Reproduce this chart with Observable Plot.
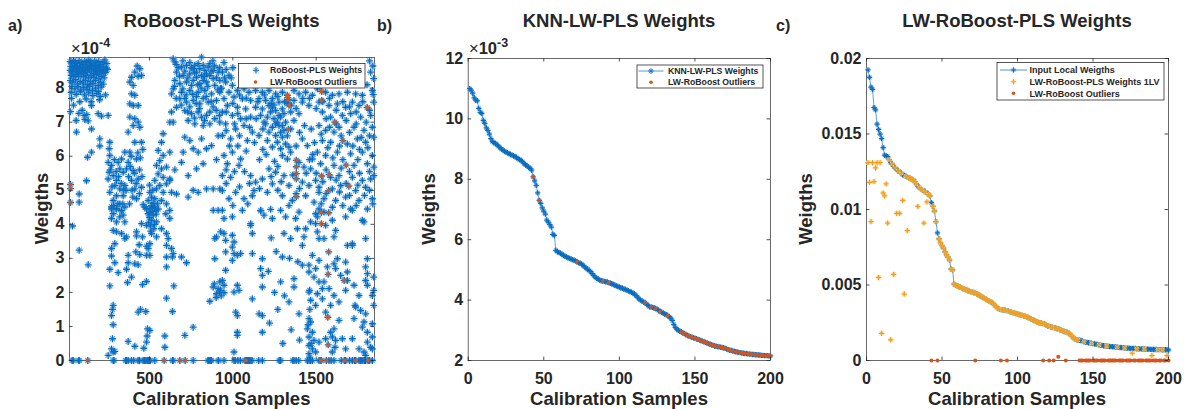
<!DOCTYPE html>
<html><head><meta charset="utf-8">
<script src="https://cdn.jsdelivr.net/npm/d3@7"></script>
<script src="https://cdn.jsdelivr.net/npm/@observablehq/plot@0.6"></script>
<style>
html,body{margin:0;padding:0;background:#fff;}
#wrap{position:relative;width:1184px;height:409px;overflow:hidden;background:#fff;}
#wrap > svg{position:absolute;top:0;}
</style></head><body><div id="wrap"></div>
<script>
// ---------------- DATA ----------------
// Panel a: RoBoost-PLS weights (x = calibration sample, y in units of 1e-4)
const roboostTopLeft = [
[24,8.78],[34,8.74],[44,8.81],[56,8.76],[66,8.72],[78,8.8],[90,8.75],[100,8.7],[112,8.79],[124,8.74],[136,8.82],[148,8.77],[160,8.71],[172,8.8],[184,8.74],[196,8.78],[208,8.69],[220,8.76],[232,8.83],[244,8.72],
[28,8.64],[40,8.6],[50,8.67],[62,8.62],[72,8.58],[84,8.66],[96,8.61],[106,8.56],[118,8.65],[130,8.6],[142,8.68],[154,8.63],[166,8.57],[178,8.66],[190,8.6],[202,8.64],[214,8.55],[226,8.62],[240,8.59],
[24,8.52],[36,8.48],[48,8.55],[60,8.5],[70,8.45],[82,8.53],[94,8.49],[104,8.44],[116,8.52],[128,8.47],[140,8.55],[152,8.5],[164,8.43],[176,8.53],[188,8.47],[200,8.51],[212,8.42],[224,8.5],[236,8.46],[248,8.55],
[30,8.38],[44,8.34],[58,8.4],[74,8.35],[90,8.41],[104,8.33],[120,8.38],[134,8.3],[150,8.37],[166,8.32],[182,8.4],[196,8.28],[212,8.35],[228,8.3],
[26,8.22],[40,8.18],[56,8.25],[68,8.12],[84,8.2],[100,8.15],[116,8.23],[130,8.1],[146,8.19],[160,8.13],[176,8.22],[192,8.08],[206,8.17],[222,8.12],
[34,8.05],[52,7.98],[70,8.04],[88,7.95],[106,8.02],[124,7.96],[140,8.05],[158,7.93],[176,8.0],[194,7.9],[210,8.03],
[30,7.88],[60,7.82],[86,7.9],[110,7.8],[136,7.86],[160,7.78],[184,7.84],[204,7.76],
[32,7.7],[120,7.68],[150,7.6],[200,7.66],[236,7.8],
[82,7.6],[26,7.31],[44,7.5],[108,7.2],[124,7.22],[192,7.25],[212,7.18],[252,7.2],[112,7.08],[132,7.04],[152,7.49],[62,6.71],[152,6.8],[202,6.51],[262,6.41],[202,6.3],[152,6.12],[128,5.97],[122,5.28],[78,4.89],[78,4.65],[96,7.35],[60,7.05],[76,7.26]
];
const roboostStrips = [
[426,8.65],[442,8.57],[412,8.47],[392,8.32],[432,8.35],[452,8.37],[382,8.18],[402,8.08],[392,7.83],[412,7.79],[382,7.54],[402,7.49],[432,7.49],[382,7.15],[412,7.1],[432,7.0],[402,6.9],[442,6.85],[372,6.71],[412,6.41],[452,6.41],[382,6.12],[422,5.92],[372,5.82],[362,5.63],[402,5.58],[432,5.33],[392,5.29],[412,5.04],[452,5.09],[422,4.75],[462,4.58],
[258,6.22],[262,6.02],[252,5.82],[272,5.73],[258,5.53],[282,5.43],[252,5.33],[302,5.29],[322,5.63],[342,5.53],[312,5.82],[332,5.92],[352,6.12],[292,5.14],[322,5.04],[342,4.84],[302,4.84],[282,4.7],[322,4.6],[262,4.94],[352,5.14],[302,4.45],[272,4.45],[332,4.4],
[265,5.6],[275,5.1],[290,5.9],[300,5.55],[315,5.4],[330,5.2],[345,5.0],[285,4.55],[310,4.6],[340,4.6],[360,5.0],[375,5.4],[385,5.7],[395,5.0],[410,5.5],[420,5.2],[440,5.6],[445,5.95],[390,6.0],[430,6.1],[460,6.2],[455,5.4],[440,4.9],[380,4.6],[400,4.8],
[582,6.66],[572,6.41],[552,6.17],[582,6.02],[562,5.87],[542,5.73],[572,5.63],[602,5.68],[552,5.48],[582,5.38],[532,5.29],[562,5.14],[602,5.19],[542,5.04],[582,4.94],[502,4.94],[532,4.75],[572,4.7],[602,4.6],[512,4.55],[482,4.45],[552,4.45],[622,6.12],[622,5.29],[632,4.94],
[492,4.7],[512,4.8],[522,4.62],[502,4.35],[538,4.4],[548,4.6],[520,5.0],[500,5.15]
];
const roboostUpperMid = [
[812,8.91],[652,8.77],[692,8.62],[722,8.67],[762,8.57],[792,8.72],[822,8.67],[852,8.62],[882,8.52],[912,8.47],[662,8.47],[702,8.37],[742,8.42],[782,8.47],[812,8.37],[842,8.42],[882,8.28],[922,8.23],[652,8.23],[682,8.13],[722,8.18],[762,8.23],[802,8.13],[842,8.18],[892,8.08],[642,7.98],[692,7.88],[742,7.93],[792,7.88],[832,7.93],[872,7.83],[922,7.88],[682,7.69],[722,7.59],[762,7.64],[802,7.54],[852,7.59],[902,7.64],[662,7.44],[712,7.34],[752,7.25],[792,7.3],[842,7.2],[892,7.1],[732,7.05],[772,6.95],[822,6.9],[862,6.95],[922,7.0],[632,7.3],[632,7.83],[622,7.0],[642,7.0],[642,8.86],[772,8.67],[802,8.57],[832,8.52],[782,8.32],[822,8.23],[862,8.37],[752,8.08],[672,8.6],[712,8.5],[742,8.75],[862,8.72],[902,8.3],[932,8.0],[712,7.7],[782,7.75],[822,7.7],[882,7.45],[742,7.45],[812,7.15],[862,7.3],
[660,8.7],[680,8.35],[700,8.8],[730,8.3],[750,8.6],[770,8.45],[790,8.1],[810,8.0],[830,8.35],[850,8.05],[870,8.5],[890,8.65],[910,7.95],[700,7.98],[720,7.8],[760,7.82],[780,7.55],[840,7.75],[870,7.6],[900,7.35],[660,7.7],[690,7.5],[730,7.3],[770,7.12],[800,7.4],[830,7.05],[920,7.2],[650,8.05],[880,8.8],[920,8.6],
[712,6.56],[742,6.46],[762,6.22],[702,6.12],[812,6.51],[842,6.22],[872,6.31],[792,6.12],[692,5.82],[732,5.43],[782,5.63],[822,5.78],[882,5.04],[842,5.04],[922,5.04],[732,4.8],[792,4.94],[662,4.89],[622,5.33],[652,5.6],[902,5.9],[912,6.6],[762,5.0]
];
const roboostUpperRight = [
[937,8.47],[977,8.37],[957,8.18],[997,8.08],[927,7.98],[977,7.88],[1027,7.93],[1067,7.98],[1097,7.88],[947,7.69],[1007,7.74],[1057,7.69],[1107,7.64],[967,7.49],[1027,7.44],[1077,7.39],[937,7.3],[997,7.2],[1047,7.1],[1107,7.15],[957,6.95],[1067,6.9],[1017,6.8],[937,6.61],[987,6.51],[1087,6.46],[947,6.02],[997,6.12],[1047,5.92],[967,5.78],[937,5.43],[987,5.38],[1037,5.73],[1107,5.43],[937,4.99],[1017,4.94],[1127,4.99],[977,4.75],[1067,4.75],[1167,4.4],[947,8.75],[1000,8.6],[960,8.55],
[950,8.3],[990,8.3],[1040,7.8],[1080,7.7],[1000,7.55],[960,7.3],[1030,7.25],[1080,7.1],[1010,6.95],[960,6.75],[1040,6.6],[1100,6.85],[980,6.3],[1030,6.3],[1080,6.15],[960,5.6],[1010,5.55],[1070,5.55],[1100,5.2],[960,5.2],[1040,5.1],[1090,4.6],[1000,4.55],
[1137,7.93],[1177,7.88],[1217,7.93],[1257,7.83],[1297,7.88],[1367,7.93],[1397,7.83],[1437,7.88],[1477,7.79],[1157,7.69],[1197,7.64],[1237,7.69],[1277,7.59],[1367,7.64],[1417,7.59],[1457,7.49],[1137,7.44],[1177,7.39],[1217,7.49],[1257,7.34],[1297,7.39],[1347,7.3],[1397,7.25],[1167,7.2],[1207,7.15],[1247,7.1],[1287,7.15],[1317,7.0],[1367,7.05],[1197,6.95],[1237,6.85],[1277,6.9],[1307,6.76],[1347,6.8],[1217,6.71],[1257,6.61],[1297,6.56],[1267,6.41],[1317,6.36],[1237,6.27],[1287,6.22],[1337,6.27],[1157,6.61],[1117,6.71],[1207,6.46],[1297,6.02],[1327,5.92],[1347,6.12],[1417,6.51],[1447,6.31],[1397,5.82],[1427,5.68],[1467,5.63],[1477,5.92],[1217,5.63],[1257,5.53],[1307,5.43],[1177,5.33],[1137,5.24],[1237,5.19],[1337,5.14],[1417,5.24],[1457,5.14],[1497,5.29],[1207,4.94],[1297,4.84],[1357,4.7],[1437,4.84],[1487,4.65],[1517,4.94],[1337,4.55],[1117,4.84],
[1267,7.0],[1287,6.7],[1227,7.3],[1307,7.25],[1327,7.55],[1247,7.5],[1277,7.2],[1327,6.6],[1187,7.0],[1257,6.95],[1297,6.9],[1237,7.42],
[1140,7.1],[1180,6.8],[1130,6.4],[1180,6.2],[1160,5.9],[1200,6.05],[1250,5.85],[1270,5.7],[1230,5.4],[1290,5.25],[1360,5.45],[1400,5.05],[1440,5.5],[1460,5.9],[1380,6.3],[1400,6.7],[1430,6.9],[1270,5.0],[1160,5.05],[1380,4.9],
[1827,8.47],[1845,8.28],[1557,7.88],[1597,7.79],[1637,7.83],[1687,7.88],[1737,7.83],[1777,7.79],[1837,7.93],[1517,7.59],[1577,7.49],[1627,7.54],[1677,7.44],[1717,7.59],[1757,7.49],[1845,7.59],[1537,7.3],[1587,7.15],[1657,7.2],[1707,7.25],[1767,7.15],[1827,7.2],[1517,6.9],[1557,6.76],[1607,6.71],[1637,6.85],[1727,6.85],[1787,6.76],[1837,6.85],[1537,6.46],[1587,6.41],[1687,6.36],[1747,6.51],[1797,6.41],[1845,6.56],[1507,6.12],[1557,6.02],[1627,6.12],[1707,6.07],[1777,6.12],[1837,6.02],[1527,5.78],[1607,5.73],[1727,5.73],[1807,5.78],[1846,5.68],[1587,5.38],[1637,5.43],[1717,5.38],[1777,5.29],[1827,5.33],[1846,5.43],[1517,5.09],[1597,5.04],[1647,5.14],[1737,4.99],[1797,5.09],[1547,4.75],[1617,4.7],[1677,4.8],[1757,4.7],[1837,4.75],[1517,4.45],[1597,4.5],[1707,4.45],[1807,4.45],[1507,7.98],[1842,7.81],
[1150,7.6],[1190,7.8],[1230,7.55],[1270,7.75],[1310,7.6],[1350,7.5],[1380,7.4],[1420,7.7],[1460,7.7],[1500,7.4],[1540,7.6],[1580,7.7],[1620,7.35],[1660,7.6],[1700,7.45],[1740,7.3],[1780,7.6],[1820,7.35],[1560,7.1],[1620,6.95],[1680,7.05],[1740,6.95],[1800,7.0],
[1470,6.8],[1530,6.65],[1580,6.85],[1650,6.6],[1700,6.7],[1770,6.55],[1820,6.6],[1490,6.4],[1640,6.3],[1720,6.3],[1760,6.2],[1810,6.25],[1570,6.25],[1480,6.05],[1600,5.95],[1660,5.9],[1750,5.9],[1820,5.55],[1560,5.6],[1650,5.65],[1700,5.55],[1760,5.5],[1500,5.5],[1540,5.25],[1620,5.3],[1680,5.2],[1750,5.15],[1820,5.0],[1560,4.9],[1640,4.95],[1700,4.85],[1790,4.85],[1840,4.6],[1530,4.6],[1660,4.55],[1740,4.55],
[1820,8.8],[1840,8.65],[1805,8.1]
];
const roboostLowerLeft = [
[38,3.95],[78,3.24],[132,2.81],
[272,4.51],[302,4.46],[332,4.41],[352,4.51],[282,4.31],[322,4.22],[342,4.27],[272,4.17],[302,4.07],[352,4.07],[282,3.82],[302,3.78],[332,3.73],[362,3.63],[352,3.58],[292,3.43],[272,3.29],[372,3.09],[272,3.07],[292,2.87],[372,2.87],[412,2.84],[432,2.81],[262,2.68],[312,2.58],[362,2.68],[392,2.45],[422,3.78],[422,3.66],[438,3.4],[482,3.36],[418,3.19],[442,3.11],[502,3.09],[482,2.32],[458,2.23],[368,2.29],[262,2.19],
[472,4.51],[502,4.46],[532,4.51],[492,4.31],[522,4.27],[512,4.12],[542,4.07],[482,3.97],[526,3.87],[512,3.73],[542,3.63],[572,3.87],[602,3.73],[612,3.58],[622,4.17],[598,4.31],[622,4.41],[602,3.38],[632,3.29],[642,3.14],[638,3.04],[602,3.04],[602,2.75],[692,3.04],[722,2.87],[502,3.43],[492,3.29],[482,3.09],[458,3.63],[452,4.02],
[500,4.2],[515,4.38],[530,4.0],[505,3.95],[520,4.48],[495,4.05],[540,4.3],[508,3.8],
[646,2.19],[602,1.83],[638,1.44],[282,1.62],[278,1.5],[272,1.32],[282,1.05],[432,1.42],[446,1.5],[478,1.44],[762,0.98],[712,0.74],[592,0.72],[592,0.39],[502,0.88],[486,0.72],[482,0.54],[466,0.36],[372,0.56],[412,0.42],[278,0.64],[272,0.34],[282,0.25],[252,0.15],[292,0.27],[488,0.93],
[882,4.41],[912,4.41],[892,3.58],[902,3.63],[892,2.99],[882,2.16],[912,2.11],[922,2.01],[902,1.96],[862,1.74],[922,2.31],[889,2.25],[900,1.85],[930,1.9]
];
const roboostLowerRight = [
[937,4.41],[947,4.17],[997,4.22],[1057,4.41],[1107,3.97],[1117,3.73],[1167,4.41],[1187,4.27],[1227,4.44],[1237,4.17],[1287,4.41],[1317,4.22],[1377,4.17],[1397,4.36],[1387,3.87],[1307,3.73],[1347,3.58],[1427,3.63],[1417,3.38],[1437,3.87],[1467,4.07],[1497,4.31],[1507,4.22],[1497,4.02],[1507,3.78],[1517,3.58],[1547,4.36],[1557,3.97],[1547,3.58],[1597,4.12],[1617,3.82],[1607,3.63],[1677,4.22],[1717,4.41],[1687,3.38],[1717,3.38],[1777,4.12],[1787,4.07],[1797,3.58],[1807,2.99],
[947,3.73],[957,3.53],[997,3.68],[1007,3.48],[997,3.33],[1007,3.14],[1027,3.09],[1047,3.14],[997,2.94],[957,3.19],[927,3.78],[957,2.65],[937,2.35],[947,2.21],[927,2.06],[947,1.99],[1027,2.21],[1037,2.06],[1007,2.01],[1107,4.02],[1117,3.14],[1177,2.99],[1167,2.7],[1177,2.5],[1213,2.62],[1177,2.16],[1117,1.81],[1017,1.42],[1027,1.32],[1157,1.37],[1177,1.32],[1177,0.83],[1027,0.83],[1027,0.74],[1007,0.25],[1297,3.04],[1287,2.31],[1337,1.72],[1397,1.37],[1367,2.4],[1367,2.16],[1417,2.8],[1457,2.8],[1461,2.06],[1477,3.09],
[1230,3.6],[1260,3.2],[1340,3.0],[1390,2.9],[1250,2.0],[1310,1.9],[1220,1.1],[1350,0.9],[1400,0.6],[1300,0.5],[1270,1.5],
[1457,2.6],[1497,2.7],[1487,2.45],[1517,2.31],[1457,2.01],[1507,1.96],[1537,2.11],[1467,1.77],[1497,1.62],[1457,1.23],[1467,1.13],[1447,0.93],[1477,0.83],[1457,0.69],[1487,0.59],[1457,0.44],[1477,0.34],[1457,0.2],[1497,0.25],[1517,0.54],[1557,0.64],[1587,0.83],[1597,0.69],[1607,0.93],[1547,2.31],[1577,2.11],[1607,1.91],[1587,1.62],[1567,2.75],[1607,2.84],[1627,2.99],[1517,2.94],[1537,1.81],[1557,1.42],[1597,0.25],[1613,0.39],[1637,1.72],[1677,2.06],[1617,2.7],[1647,2.5],[1687,2.35],
[1717,3.43],[1677,2.89],[1687,2.6],[1727,2.21],[1757,1.91],[1737,1.57],[1767,1.47],[1727,1.23],[1787,1.13],[1797,1.37],[1777,0.98],[1807,0.83],[1837,1.08],[1837,0.69],[1807,0.54],[1827,0.39],[1787,0.25],[1797,0.15],[1837,0.34],[1797,2.75],[1807,2.55],[1797,2.35],[1807,2.21],[1845,2.45],[1845,2.06],[1837,1.91],[1845,1.62],[1657,0.64],[1677,0.34],[1637,1.18],[1617,0.59],[1717,0.64],[1757,0.34],[1733,1.62],
[1462,1.5],[1452,1.05],[1470,0.5],[1462,0.1]
];
const roboostZeroSamples = [36,42,76,78,282,287,357,362,372,392,405,432,440,462,470,478,486,494,500,504,532,638,642,762,851,856,862,869,872,912,915,947,1007,1015,1030,1045,1073,1080,1088,1095,1100,1108,1115,1155,1177,1278,1287,1360,1367,1380,1395,1447,1457,1467,1477,1517,1530,1577,1590,1607,1650,1677,1700,1717,1730,1757,1765,1770,1780,1790,1797,1820,1837];
const outliersA = [
[26,5.17],[26,5.05],[26,4.64],[1327,7.79],[1330,7.72],[1333,7.66],[1337,7.5],[1333,6.79],[1381,5.88],[1381,5.69],[1381,5.49],[1381,5.34],[1381,4.81],[1533,7.9],[1533,7.64],[1612,7.0],[1660,6.46],[1680,5.74],[1533,5.42],[1578,5.46],[1575,4.99],[1696,5.12],[1806,7.43],[1531,4.35],[1575,4.34],[1531,4.02],[1575,3.19],[1572,2.53],[1668,2.35],[1570,1.27],[1572,0.46],
[130,0],[588,0],[682,0],[714,0],[1078,0],[1529,0],[1561,0],[1670,0],[1737,0],[1812,0]
];

// Panel b: KNN-LW-PLS weights for samples 1..200 (units of 1e-3)
const knnWeights = [
11.00,10.95,10.85,10.70,10.62,10.60,10.35,10.22,10.18,9.95,
9.85,9.70,9.62,9.50,9.35,9.25,9.22,9.18,9.15,9.10,
9.05,9.00,8.97,8.93,8.90,8.88,8.85,8.82,8.80,8.78,
8.75,8.72,8.68,8.66,8.62,8.58,8.52,8.48,8.44,8.40,
8.36,8.30,8.08,7.95,7.80,7.55,7.30,7.20,7.05,6.95,
6.85,6.65,6.58,6.50,6.42,6.18,6.14,5.65,5.60,5.58,
5.55,5.52,5.48,5.45,5.43,5.40,5.38,5.36,5.34,5.32,
5.30,5.27,5.24,5.22,5.19,5.15,5.10,5.06,5.02,4.98,
4.94,4.88,4.82,4.76,4.72,4.70,4.66,4.64,4.63,4.62,
4.61,4.60,4.58,4.56,4.54,4.52,4.49,4.47,4.45,4.43,
4.41,4.39,4.37,4.35,4.33,4.31,4.28,4.26,4.23,4.20,
4.15,4.10,4.04,4.00,3.97,3.94,3.91,3.87,3.82,3.78,
3.77,3.76,3.74,3.72,3.70,3.66,3.62,3.60,3.57,3.54,
3.52,3.49,3.45,3.40,3.33,3.20,3.10,3.04,3.00,2.97,
2.95,2.92,2.89,2.86,2.83,2.81,2.79,2.77,2.75,2.74,
2.72,2.70,2.68,2.66,2.64,2.62,2.60,2.58,2.56,2.54,
2.52,2.50,2.48,2.47,2.46,2.45,2.44,2.43,2.42,2.40,
2.38,2.36,2.34,2.33,2.32,2.30,2.29,2.28,2.27,2.26,
2.25,2.24,2.23,2.23,2.22,2.21,2.21,2.20,2.20,2.19,
2.19,2.18,2.18,2.17,2.17,2.16,2.16,2.16,2.15,2.15
];
// Panel c: input local weights for samples 1..200 (units of 1e-3)
const localWeights = [
19.25,18.75,18.10,17.95,16.75,16.60,15.65,15.30,15.00,14.70,
14.10,13.60,13.55,13.50,13.30,13.10,13.00,12.85,12.75,12.65,
12.55,12.50,12.40,12.30,12.25,12.20,12.15,12.10,12.05,12.00,
11.95,11.85,11.70,11.55,11.45,11.35,11.30,11.25,11.15,11.10,
11.00,10.90,10.45,10.20,9.90,9.20,8.45,8.05,7.80,7.60,
7.45,7.20,7.00,6.85,6.65,6.05,6.00,5.05,4.98,4.95,
4.90,4.85,4.80,4.75,4.72,4.68,4.64,4.60,4.56,4.52,
4.50,4.47,4.42,4.36,4.30,4.24,4.18,4.12,4.06,4.00,
3.95,3.90,3.85,3.75,3.65,3.55,3.45,3.40,3.37,3.36,
3.35,3.33,3.30,3.27,3.24,3.20,3.17,3.14,3.11,3.08,
3.05,3.02,2.99,2.96,2.93,2.90,2.85,2.80,2.75,2.70,
2.65,2.60,2.55,2.52,2.50,2.47,2.44,2.40,2.35,2.30,
2.26,2.22,2.20,2.18,2.15,2.12,2.10,2.05,2.00,1.95,
1.92,1.90,1.86,1.80,1.72,1.62,1.50,1.42,1.38,1.36,
1.34,1.32,1.28,1.25,1.22,1.20,1.18,1.16,1.14,1.12,
1.10,1.08,1.06,1.04,1.02,1.00,0.98,0.96,0.95,0.94,
0.93,0.92,0.91,0.90,0.89,0.88,0.87,0.86,0.85,0.84,
0.83,0.82,0.82,0.81,0.80,0.80,0.79,0.79,0.78,0.78,
0.77,0.77,0.76,0.76,0.75,0.75,0.75,0.74,0.74,0.73,
0.73,0.73,0.72,0.72,0.72,0.71,0.71,0.71,0.71,0.70
];
// Panel c: LW-RoBoost-PLS (1 LV) weights that depart from the input weights (sample, 1e-3)
const lv1Departures = [
[1,13.1],[2,11.8],[3,9.2],[4,13.1],[5,11.85],[6,12.75],[7,13.1],[8,5.5],[9,13.1],[10,1.8],
[11,11.1],[12,10.9],[13,11.7],[14,9.1],[16,1.37],[18,5.7],[20,9.75],[22,9.75],[24,10.6],[25,4.4],
[27,8.6],[34,10.2],[38,9.1],[40,10.5],[176,0.49],[189,0.33],[199,0.33]
];
// LW-RoBoost outlier samples (shared by b and c) and their LW-RoBoost weight in c (1e-3)
const outlierIdx = [43,47,72,89,93,117,121,124,127,132,141,142,143,145,146,147,148,150,151,152,153,155,156,157,158,160,161,162,163,164,165,167,168,169,170,172,173,174,175,177,178,180,181,182,183,185,186,187,188,190,191,192,194,195,197,198,200];
const outlierWeightC = outlierIdx.map(i => i === 127 ? 0.25 : 0);

// ---------------- DRAWING ----------------
const FONT = '"Liberation Sans", Arial, Helvetica, sans-serif';
const INK = "#262626";
const BLUE = "#0b6cbf", BLUE_L = "#5ea6df", RED = "#D95319", ORANGE = "#f0a020", ORANGE_L = "#fbd383";
const wrap = document.getElementById("wrap");

const plusSym = {draw(ctx, size){ const r = Math.sqrt(size/Math.PI); ctx.moveTo(-r,0); ctx.lineTo(r,0); ctx.moveTo(0,-r); ctx.lineTo(0,r); }};
const timesSym = {draw(ctx, size){ const r = Math.sqrt(size/Math.PI)*0.72; ctx.moveTo(-r,-r); ctx.lineTo(r,r); ctx.moveTo(-r,r); ctx.lineTo(r,-r); }};

function stars(data, opts, r, c1, c2, w = 1.1) {
  return [
    Plot.dot(data, {...opts, symbol: timesSym, r, fill: "none", stroke: c2, strokeWidth: w}),
    Plot.dot(data, {...opts, symbol: plusSym, r, fill: "none", stroke: c1, strokeWidth: w + 0.15})
  ];
}

function panel({left, width, marginLeft, marginRight, marginTop, xDomain, yDomain, xTicks, yTicks, yFormat, marks}) {
  const height = 409, marginBottom = 49, TL = 3.5;
  const innerW = width - marginLeft - marginRight, innerH = height - marginTop - marginBottom;
  const svg = Plot.plot({
    width, height, marginLeft, marginRight, marginTop, marginBottom,
    style: {fontFamily: FONT, fontSize: "16px", fontWeight: "bold", color: INK, background: "transparent", overflow: "visible"},
    x: {domain: xDomain, ticks: xTicks, tickSize: 0, tickPadding: 12, label: null, tickFormat: d => String(d)},
    y: {domain: yDomain, ticks: yTicks, tickSize: 0, tickPadding: 5, label: null, tickFormat: yFormat},
    marks: [
      Plot.frame({stroke: "#5a5a5a", strokeWidth: 0.9}),
      ...marks,
      Plot.tickX(xTicks, {x: d => d, insetTop: innerH - TL, stroke: INK, strokeWidth: 0.8}),
      Plot.tickX(xTicks, {x: d => d, insetBottom: innerH - TL, stroke: INK, strokeWidth: 0.8}),
      Plot.tickY(yTicks, {y: d => d, insetRight: innerW - TL, stroke: INK, strokeWidth: 0.8}),
      Plot.tickY(yTicks, {y: d => d, insetLeft: innerW - TL, stroke: INK, strokeWidth: 0.8})
    ]
  });
  svg.style.left = left + "px";
  wrap.append(svg);
}

// Panel a
const roboostAll = [...roboostTopLeft, ...roboostStrips, ...roboostUpperMid, ...roboostUpperRight,
  ...roboostLowerLeft, ...roboostLowerRight, ...roboostZeroSamples.map(x => [x, 0]), ...outliersA];
panel({
  left: 0, width: 376, marginLeft: 69, marginRight: 2, marginTop: 57,
  xDomain: [20, 1850], yDomain: [0, 8.9],
  xTicks: [500, 1000, 1500], yTicks: [0,1,2,3,4,5,6,7,8], yFormat: d => String(d),
  marks: [
    ...stars(roboostAll, {x: d => d[0], y: d => d[1]}, 3.5, BLUE, BLUE_L, 1.2),
    Plot.dot(outliersA, {x: d => d[0], y: d => d[1], r: 2, fill: RED})
  ]
});

// Panel b
const knnSeries = knnWeights.map((v, i) => ({i: i + 1, v}));
const knnOut = outlierIdx.map(i => ({i, v: knnWeights[i - 1]}));
panel({
  left: 376, width: 401, marginLeft: 91.7, marginRight: 7, marginTop: 58,
  xDomain: [0, 200], yDomain: [2, 12],
  xTicks: [0, 50, 100, 150, 200], yTicks: [2,4,6,8,10,12], yFormat: d => String(d),
  marks: [
    Plot.line(knnSeries, {x: "i", y: "v", stroke: "#4a98d6", strokeWidth: 0.9}),
    ...stars(knnSeries, {x: "i", y: "v"}, 2.7, BLUE, BLUE_L),
    Plot.dot(knnOut, {x: "i", y: "v", r: 1.8, fill: RED})
  ]
});

// Panel c
const localSeries = localWeights.map((v, i) => ({i: i + 1, v: v / 1000}));
const depart = new Map(lv1Departures.map(([i, v]) => [i, v]));
const lv1Series = localWeights.map((v, i) => ({i: i + 1, v: (depart.has(i + 1) ? depart.get(i + 1) : v) / 1000}))
  .filter(d => !outlierIdx.includes(d.i));
const outC = outlierIdx.map((i, k) => ({i, v: outlierWeightC[k] / 1000}));
panel({
  left: 777, width: 407, marginLeft: 89, marginRight: 16, marginTop: 58,
  xDomain: [0, 200], yDomain: [0, 0.02],
  xTicks: [0, 50, 100, 150, 200], yTicks: [0, 0.005, 0.01, 0.015, 0.02], yFormat: d => String(d),
  marks: [
    Plot.line(localSeries, {x: "i", y: "v", stroke: "#4a98d6", strokeWidth: 0.9}),
    ...stars(localSeries, {x: "i", y: "v"}, 2.7, BLUE, BLUE_L),
    ...stars(lv1Series, {x: "i", y: "v"}, 2.7, ORANGE, ORANGE_L),
    Plot.dot(outC, {x: "i", y: "v", r: 2, fill: RED})
  ]
});

// ---------------- TEXT, LEGENDS ----------------
const ov = d3.select(wrap).append("svg")
  .attr("width", 1184).attr("height", 409)
  .style("left", "0px").style("pointer-events", "none")
  .attr("font-family", FONT).attr("fill", INK);

function text(x, y, s, {size = 18.5, weight = "bold", anchor = "start", rotate = false} = {}) {
  const t = ov.append("text").attr("x", x).attr("y", y).attr("font-size", size)
    .attr("font-weight", weight).attr("text-anchor", anchor).text(s);
  if (rotate) t.attr("transform", `rotate(-90 ${x} ${y})`);
  return t;
}
const titles = [["RoBoost-PLS Weights", 221.5], ["KNN-LW-PLS Weights", 619], ["LW-RoBoost-PLS Weights", 1017]];
titles.forEach(([s, x]) => text(x, 27, s, {anchor: "middle"}));
[["a)", 8], ["b)", 377], ["c)", 776]].forEach(([s, x]) => text(x, 31, s, {size: 16}));
[[221.5], [619], [1017]].forEach(([x]) => text(x, 405, "Calibration Samples", {anchor: "middle"}));
[[48, 208.5], [435, 209], [811.5, 209]].forEach(([x, y]) => text(x, y, "Weigths", {anchor: "middle", rotate: true}));

function exponent(x, e) {
  const t = ov.append("text").attr("x", x).attr("y", 54).attr("font-size", 16.5).attr("font-weight", "bold");
  t.append("tspan").attr("font-weight", "normal").text("\u00d7");
  t.append("tspan").text("10");
  t.append("tspan").attr("dy", -7).attr("font-size", 12.5).text("-4".replace("-4", e));
}
exponent(71, "-4");
exponent(469, "-3");

function legendStar(x, y, r, c1, c2) {
  const d = r * 0.72;
  ov.append("path").attr("d", `M${x-d},${y-d}L${x+d},${y+d}M${x-d},${y+d}L${x+d},${y-d}`).attr("stroke", c2).attr("fill", "none");
  ov.append("path").attr("d", `M${x-r},${y}H${x+r}M${x},${y-r}V${y+r}`).attr("stroke", c1).attr("stroke-width", 1.1).attr("fill", "none");
}
function legendBox(x, y, w, h) {
  ov.append("rect").attr("x", x).attr("y", y).attr("width", w).attr("height", h)
    .attr("fill", "#fff").attr("stroke", "#2b2b2b").attr("stroke-width", 0.8);
}
function legendDot(x, y) { ov.append("circle").attr("cx", x).attr("cy", y).attr("r", 1.8).attr("fill", RED); }
function legendLine(x1, x2, y) { ov.append("line").attr("x1", x1).attr("x2", x2).attr("y1", y).attr("y2", y).attr("stroke", "#4a98d6").attr("stroke-width", 1); }

// legend a
legendBox(238.5, 63.5, 126.5, 24.5);
legendStar(256, 70.3, 3.2, BLUE, BLUE_L);
text(270, 73.4, "RoBoost-PLS Weights", {size: 8.7});
legendDot(255.5, 82);
text(270, 85.1, "LW-RoBoost Outliers", {size: 8.7});

// legend b
legendBox(637, 65, 126, 23);
legendLine(638.5, 663.5, 71);
legendStar(651, 71, 2.7, BLUE, BLUE_L);
text(668, 74.1, "KNN-LW-PLS Weights", {size: 8.7});
legendDot(651, 82.3);
text(668, 85.4, "LW-RoBoost Outliers", {size: 8.7});

// legend c
legendBox(997, 62.5, 167, 37.5);
legendLine(1000, 1027, 70);
legendStar(1013.5, 70, 2.7, BLUE, BLUE_L);
text(1029.5, 73.2, "Input Local Weigths", {size: 9});
legendStar(1013.5, 81.7, 2.7, ORANGE, ORANGE_L);
text(1029.5, 84.9, "LW-RoBoost-PLS Weights 1LV", {size: 9});
legendDot(1013.5, 93.3);
text(1029.5, 96.5, "LW-RoBoost Outliers", {size: 9});
</script>
</body></html>
